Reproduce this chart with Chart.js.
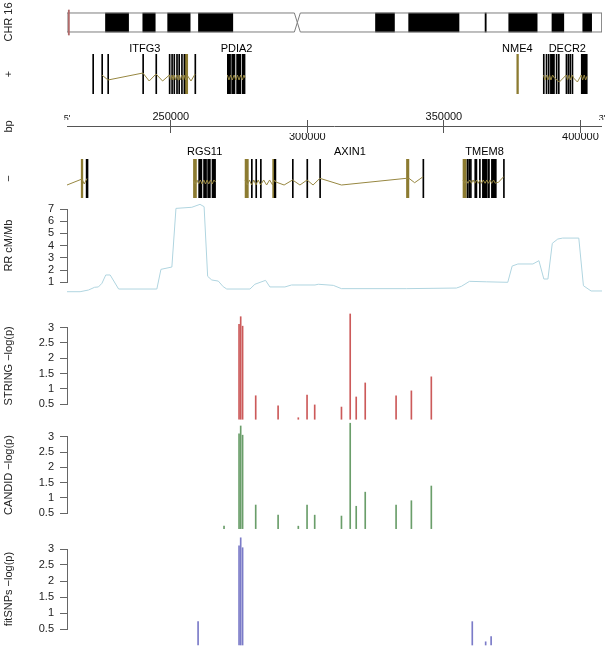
<!DOCTYPE html>
<html>
<head>
<meta charset="utf-8">
<title>CHR 16 region</title>
<script src="https://cdn.jsdelivr.net/npm/chart.js@4/dist/chart.umd.min.js"></script>
<style>
  body { margin: 0; background: #fff; }
  #page { position: relative; width: 609px; height: 646px; overflow: hidden; background: #fff; }
  #page canvas { position: absolute; left: 0; }
</style>
</head>
<body>
<div id="page">
  <canvas id="ideo" width="609" height="44" style="top:0px"></canvas>
  <canvas id="plus" width="609" height="70" style="top:30px"></canvas>
  <canvas id="bp" width="609" height="50" style="top:100px"></canvas>
  <canvas id="minus" width="609" height="70" style="top:135px"></canvas>
  <canvas id="rr" width="609" height="110" style="top:195px"></canvas>
  <canvas id="string" width="609" height="125" style="top:300px"></canvas>
  <canvas id="candid" width="609" height="115" style="top:420px"></canvas>
  <canvas id="fitsnps" width="609" height="111" style="top:535px"></canvas>
</div>
<script>
// region on chr16 that is shown (bp)
const regionStart = 212000;
const regionEnd = 407900;

// chromosome 16 ideogram (Mb)
const chrLength = 90.35;
const centromere = 38.9;
const darkBands = [[6.5, 10.4], [12.8, 14.9], [17.0, 20.8], [22.2, 28.0], [52.1, 55.3], [57.7, 66.2],
  [70.6, 70.8], [74.6, 79.4], [81.9, 83.9], [87.1, 88.6]];
const shownRegion = [0.21, 0.41];

// + strand genes
const plusGenes = ['ITFG3', 'PDIA2', 'NME4', 'DECR2'];
const plusGeneMid = [240500, 274100, 376900, 395200];
const plusExons = [
  [221400, 221700], [224700, 225000], [226900, 227200], [239700, 240000], [244500, 244800],
  [249400, 249700], [250300, 250600], [251100, 251400], [252100, 252400], [252900, 253200],
  [253900, 254200], [254800, 255100], [258800, 259100],
  [270700, 271900], [272300, 273500], [274100, 275700], [276200, 277200],
  [386400, 386700], [387400, 387700], [388200, 388500], [389000, 390500], [391100, 391400],
  [391900, 392200], [394700, 395000], [395400, 395700], [396100, 396400], [396900, 397200],
  [400300, 402500]
];
const plusExonsOlive = [[255200, 256200], [376700, 377300]];
const plusIntrons = [
  [[224800, 0.475], [227000, 0.35], [239800, 0.525], [242100, 0.325], [244600, 0.5], [247000, 0.325],
   [249500, 0.475], [249900, 0.35], [250400, 0.475], [250850, 0.35], [251200, 0.475], [251700, 0.35],
   [252200, 0.475], [252700, 0.35], [253000, 0.475], [253500, 0.35], [254000, 0.475], [254500, 0.35],
   [254900, 0.475], [255400, 0.35], [256200, 0.45], [257400, 0.325], [258900, 0.5]],
  [[270700, 0.475], [271300, 0.35], [271900, 0.475], [272500, 0.35], [273200, 0.475], [273800, 0.35],
   [274400, 0.475], [275000, 0.35], [275600, 0.475], [276200, 0.35], [276800, 0.475], [277200, 0.4]],
  [[386500, 0.475], [387000, 0.35], [387600, 0.475], [388100, 0.35], [388700, 0.475], [389200, 0.35],
   [389800, 0.475], [390500, 0.4], [392300, 0.3], [394800, 0.475], [395300, 0.35], [395900, 0.475],
   [396400, 0.35], [397000, 0.475], [397500, 0.4], [398900, 0.3], [400300, 0.475], [400800, 0.35],
   [401400, 0.475], [401900, 0.35], [402500, 0.45]]
];

// bp ruler
const bpTopTicks = [212000, 250000, 350000, 407900];
const bpTopLabels = ["5'", '250000', '350000', "3'"];
const bpBottomTicks = [300000, 400000];
const bpBottomLabels = ['300000', '400000'];

// - strand genes
const minusGenes = ['RGS11', 'AXIN1', 'TMEM8'];
const minusGeneMid = [262400, 315600, 364900];
const minusExons = [
  [219000, 219700],
  [260200, 261400], [262000, 263100], [263500, 264500], [265100, 266400],
  [279500, 279800], [281100, 281400], [282800, 283100], [287900, 288500], [294500, 294800],
  [299800, 300100], [304500, 304800], [342300, 342600],
  [358500, 358800], [359100, 359400], [359700, 360000], [361300, 362100], [363000, 363300],
  [364100, 365800], [366100, 366700], [367400, 369200], [371800, 372100]
];
const minusExonsOlive = [[217200, 217800], [258300, 259400], [277200, 278400], [287300, 287900],
  [336300, 337200], [357000, 358200]];
const minusIntrons = [
  [[212000, 0.333], [217500, 0.487], [218300, 0.359], [219300, 0.5]],
  [[258300, 0.462], [259000, 0.359], [259600, 0.462], [260200, 0.359], [260800, 0.462], [261450, 0.359],
   [262100, 0.462], [262700, 0.359], [263300, 0.462], [263900, 0.359], [264560, 0.462], [265200, 0.359],
   [265800, 0.462], [266400, 0.41]],
  [[277200, 0.462], [278000, 0.333], [278800, 0.462], [279600, 0.333], [280400, 0.462], [281200, 0.333],
   [282000, 0.462], [282900, 0.333], [284000, 0.462], [285100, 0.333], [286200, 0.462], [287300, 0.333],
   [288000, 0.462], [288500, 0.41], [291500, 0.333], [294600, 0.462], [297300, 0.333], [299900, 0.462],
   [302100, 0.333], [304600, 0.505], [312500, 0.333], [336300, 0.505], [337200, 0.505], [339300, 0.392],
   [342400, 0.546]],
  [[357000, 0.462], [357600, 0.377], [358200, 0.462], [358800, 0.377], [359500, 0.462], [360100, 0.377],
   [360700, 0.462], [361300, 0.377], [362000, 0.462], [362600, 0.377], [363200, 0.462], [363800, 0.377],
   [364400, 0.462], [365100, 0.377], [365700, 0.462], [366300, 0.377], [366900, 0.462], [367500, 0.377],
   [368200, 0.462], [368800, 0.377], [369400, 0.41], [369800, 0.39], [371900, 0.546]]
];

// recombination rate (cM/Mb)
const rrPos = [212000, 216800, 219900, 222100, 223500, 224800, 226200, 227800, 230900, 244900,
  246400, 250400, 251900, 257700, 260700, 262200, 263500, 265000, 267400, 269200,
  270500, 279000, 280800, 284700, 286300, 291800, 294200, 302800, 304000, 309500,
  312500, 336300, 354600, 356400, 359400, 365500, 373400, 375000, 377100, 382600,
  384800, 386600, 388100, 389700, 391700, 393500, 399400, 401100, 403900, 407900];
const rrRate = [0.23, 0.23, 0.37, 0.59, 0.62, 0.92, 1.6, 1.6, 0.45, 0.45,
  2.06, 2.25, 7.05, 7.14, 7.38, 7.19, 1.49, 1.19, 1.1, 0.64,
  0.45, 0.45, 0.84, 1.16, 0.62, 0.62, 0.78, 0.78, 0.84, 0.75,
  0.48, 0.48, 0.53, 0.67, 1.08, 1.04, 1.0, 2.33, 2.5, 2.5,
  2.77, 1.27, 1.27, 4.19, 4.54, 4.62, 4.62, 0.72, 0.29, 0.29];

// SNP -log(p)
const stringPos = [275000, 275600, 276300, 281100, 289300, 296700, 299900, 302700, 312500, 315700,
  317900, 321200, 332500, 338100, 345400];
const stringLogP = [3.11, 3.36, 3.05, 0.77, 0.44, 0.05, 0.79, 0.47, 0.40, 3.45, 0.73, 1.19, 0.77, 0.93, 1.39];
const candidPos = [269500, 275000, 275600, 276300, 281100, 289300, 296700, 299900, 302700, 312500,
  315700, 317900, 321200, 332500, 338100, 345400];
const candidLogP = [0.08, 3.09, 3.35, 3.05, 0.77, 0.44, 0.08, 0.77, 0.44, 0.41, 3.44, 0.73, 1.19, 0.77, 0.91, 1.39];
const fitPos = [260000, 275000, 275600, 276300, 360400, 365300, 367300];
const fitLogP = [0.73, 3.10, 3.35, 3.04, 0.73, 0.10, 0.26];

// ---- drawing ----
Chart.defaults.font.family = "'Liberation Sans', Arial, Helvetica, sans-serif";
Chart.defaults.font.size = 11;
Chart.defaults.color = '#111';

const axisGray = '#666666';
const olive = '#8c7b31';
const intronColor = '#978741';

function baseOptions(pad) {
  return {
    responsive: false,
    animation: false,
    events: [],
    layout: { padding: pad },
    plugins: { legend: { display: false }, tooltip: { enabled: false } }
  };
}

function hiddenX(min, max) {
  return { type: 'linear', min: min, max: max, offset: false, display: false };
}

function titleOnlyY(title) {
  return {
    type: 'linear', min: 0, max: 1, offset: false,
    afterFit: s => { s.width = 67; },
    ticks: { display: false },
    grid: { display: false },
    border: { display: false },
    title: { display: true, text: title, color: '#222', padding: { top: 2.5, bottom: 0 } }
  };
}

function valueY(title, min, max, step) {
  return {
    type: 'linear', min: min, max: max, offset: false,
    afterFit: s => { s.width = 67; },
    ticks: { stepSize: step, autoSkip: false, padding: 6, color: '#222', callback: v => String(v) },
    grid: { drawOnChartArea: false, drawTicks: true, tickLength: 7, color: axisGray },
    border: { display: true, color: axisGray },
    title: { display: true, text: title, color: '#222', padding: { top: 2.5, bottom: 0 } }
  };
}

function pathData(segments) {
  const out = [];
  segments.forEach((seg, i) => {
    if (i > 0) out.push({ x: seg[0][0], y: null });
    seg.forEach(p => out.push({ x: p[0], y: p[1] }));
  });
  return out;
}

// ideogram
const boxMid = 0.485, boxTop = 0.765, boxBot = 0.206, pinch = 0.5;
const outline = [
  { x: 0, y: boxTop }, { x: centromere - pinch, y: boxTop }, { x: centromere, y: boxMid },
  { x: centromere - pinch, y: boxBot }, { x: 0, y: boxBot }, { x: 0, y: boxTop },
  { x: centromere, y: null },
  { x: centromere, y: boxMid }, { x: centromere + pinch, y: boxTop }, { x: chrLength, y: boxTop },
  { x: chrLength, y: boxBot }, { x: centromere + pinch, y: boxBot }, { x: centromere, y: boxMid }
];
new Chart(document.getElementById('ideo'), {
  type: 'bar',
  data: {
    datasets: [
      { type: 'bar', indexAxis: 'y', data: [{ x: shownRegion, y: boxMid }], backgroundColor: '#b06a6a',
        barThickness: 25, minBarLength: 1, grouped: false, order: -1 },
      { type: 'line', data: outline, borderColor: '#7d7d7d', borderWidth: 1, pointRadius: 0, spanGaps: false, order: 0 },
      { type: 'bar', indexAxis: 'y', data: darkBands.map(b => ({ x: b, y: boxMid })), backgroundColor: '#000',
        barThickness: 19, minBarLength: 1, grouped: false, order: 1 }
    ]
  },
  options: Object.assign(baseOptions({ top: 5, bottom: 5, left: 0, right: 7 }), {
    scales: { x: hiddenX(0, chrLength), y: titleOnlyY('CHR 16') }
  })
});

function geneTrack(id, side, names, mids, exons, olives, introns, pad, thick, labelPad) {
  new Chart(document.getElementById(id), {
    type: 'bar',
    data: {
      datasets: [
        { type: 'line', data: pathData(introns), borderColor: intronColor, borderWidth: 1, pointRadius: 0,
          spanGaps: false, xAxisID: 'x', yAxisID: 'y', order: 0 },
        { type: 'bar', indexAxis: 'y', data: exons.map(e => ({ x: e, y: 0.5 })), backgroundColor: '#000',
          barThickness: thick, minBarLength: 1, grouped: false, xAxisID: 'x', yAxisID: 'y', order: 1 },
        { type: 'bar', indexAxis: 'y', data: olives.map(e => ({ x: e, y: 0.5 })), backgroundColor: olive,
          barThickness: thick, minBarLength: 1.5, grouped: false, xAxisID: 'x', yAxisID: 'y', order: 1 }
      ]
    },
    options: Object.assign(baseOptions(pad), {
      scales: {
        x: hiddenX(regionStart, regionEnd),
        xg: {
          type: 'linear', position: 'top', min: regionStart, max: regionEnd, offset: false,
          afterBuildTicks: s => { s.ticks = mids.map(v => ({ value: v })); },
          afterFit: s => { s.height = 14; },
          grid: { display: false, drawTicks: false },
          border: { display: false },
          ticks: { autoSkip: false, maxRotation: 0, padding: labelPad, color: '#000', callback: (v, i) => names[i] }
        },
        y: titleOnlyY(side)
      }
    })
  });
}

geneTrack('plus', '+', plusGenes, plusGeneMid, plusExons, plusExonsOlive, plusIntrons,
  { top: 10, bottom: 6, left: 0, right: 7 }, 40, -1.6);

// bp ruler
new Chart(document.getElementById('bp'), {
  type: 'line',
  data: { datasets: [] },
  options: Object.assign(baseOptions({ top: 6, bottom: 3, left: 0, right: 7 }), {
    scales: {
      xt: {
        type: 'linear', position: 'top', min: regionStart, max: regionEnd, offset: false,
        afterBuildTicks: s => { s.ticks = bpTopTicks.map(v => ({ value: v })); },
        afterFit: s => { s.height = 14; },
        grid: { drawTicks: false, color: c => (c.index === 0 || c.index === bpTopTicks.length - 1) ? 'rgba(0,0,0,0)' : '#555' },
        border: { display: false },
        ticks: {
          autoSkip: false, maxRotation: 0, padding: -3.6, color: '#111',
          font: c => ({ size: (c.index === 0 || c.index === bpTopTicks.length - 1) ? 9 : 11 }),
          callback: (v, i) => bpTopLabels[i]
        }
      },
      xb: {
        type: 'linear', position: 'bottom', min: regionStart, max: regionEnd, offset: false,
        afterBuildTicks: s => { s.ticks = bpBottomTicks.map(v => ({ value: v })); },
        afterFit: s => { s.height = 14; },
        grid: { drawTicks: false, color: '#555' },
        border: { display: false },
        ticks: { autoSkip: false, maxRotation: 0, padding: -2.6, color: '#111', callback: (v, i) => bpBottomLabels[i] }
      },
      y: {
        type: 'linear', min: -1, max: 1, offset: false,
        afterBuildTicks: s => { s.ticks = [{ value: 0 }]; },
        afterFit: s => { s.width = 67; },
        grid: { drawTicks: false, color: '#555' },
        border: { display: false },
        ticks: { display: false },
        title: { display: true, text: 'bp', color: '#222', padding: { top: 2.5, bottom: 0 } }
      }
    }
  })
});

geneTrack('minus', '\u2212', minusGenes, minusGeneMid, minusExons, minusExonsOlive, minusIntrons,
  { top: 10, bottom: 7, left: 0, right: 7 }, 39, 0.4);

// recombination rate
new Chart(document.getElementById('rr'), {
  type: 'line',
  data: {
    datasets: [{ data: rrPos.map((p, i) => ({ x: p, y: rrRate[i] })), borderColor: '#b0d5e0', borderWidth: 1,
      pointRadius: 0, clip: false }]
  },
  options: Object.assign(baseOptions({ top: 14, bottom: 22.7, left: 0, right: 7 }), {
    scales: { x: hiddenX(regionStart, regionEnd), y: valueY('RR cM/Mb', 1, 7, 1) }
  })
});

function snpPanel(id, title, pos, logp, color, pad) {
  new Chart(document.getElementById(id), {
    type: 'bar',
    data: {
      datasets: [{ data: pos.map((p, i) => ({ x: p, y: [0, logp[i]] })), backgroundColor: color,
        barThickness: 1, grouped: false, clip: false }]
    },
    options: Object.assign(baseOptions(pad), {
      scales: { x: hiddenX(regionStart, regionEnd), y: valueY(title, 0.5, 3, 0.5) }
    })
  });
}

snpPanel('string', 'STRING \u2212log(p)', stringPos, stringLogP, '#cc5a5a', { top: 27.7, bottom: 21, left: 0, right: 7 });
snpPanel('candid', 'CANDID \u2212log(p)', candidPos, candidLogP, '#6a9e6a', { top: 16.7, bottom: 21.7, left: 0, right: 7 });
snpPanel('fitsnps', 'fitSNPs \u2212log(p)', fitPos, fitLogP, '#7b7bc8', { top: 14, bottom: 17, left: 0, right: 7 });
</script>
</body>
</html>
